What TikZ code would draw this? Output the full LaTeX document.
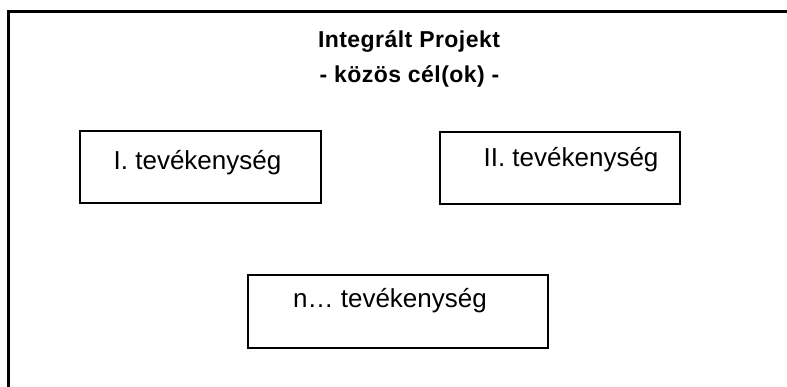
\documentclass[tikz,border=0pt]{standalone}
\usepackage{fontspec}
\setmainfont{Liberation Sans}
\newfontfamily\headfont[LetterSpace=2]{Liberation Sans}
\begin{document}
\begin{tikzpicture}[x=1pt,y=-1pt,
  frame/.style={draw=black,line width=3pt},
  actbox/.style={draw=black,line width=2pt,rectangle,inner sep=0pt},
  bodytxt/.style={inner sep=0pt,anchor=base,font=\fontsize{26}{30}\selectfont},
  headtxt/.style={inner sep=0pt,anchor=base,font=\headfont\fontsize{23}{27}\selectfont\bfseries}]
  % page area; the outer frame runs past the right and bottom edges
  \clip (0,0) rectangle (787,387);
  \draw[frame] (8.5,11.5) rectangle (820,420);

  % heading
  \node[headtxt] (title) at (409,48) {Integrált Projekt};
  \node[headtxt] (goal) at (409.5,83) {- közös cél(ok) -};

  % activity boxes
  \node[actbox,minimum width=241pt,minimum height=72pt] (a1) at (200.5,167) {};
  \node[actbox,minimum width=240pt,minimum height=72pt] (a2) at (560,168) {};
  \node[actbox,minimum width=300pt,minimum height=73pt] (an) at (398,311.5) {};

  \node[bodytxt] (t1) at (197.5,170) {I. tevékenység};
  \node[bodytxt] (t2) at (571,166.7) {II. tevékenység};
  \node[bodytxt] (tn) at (390,308) {n… tevékenység};
\end{tikzpicture}
\end{document}
